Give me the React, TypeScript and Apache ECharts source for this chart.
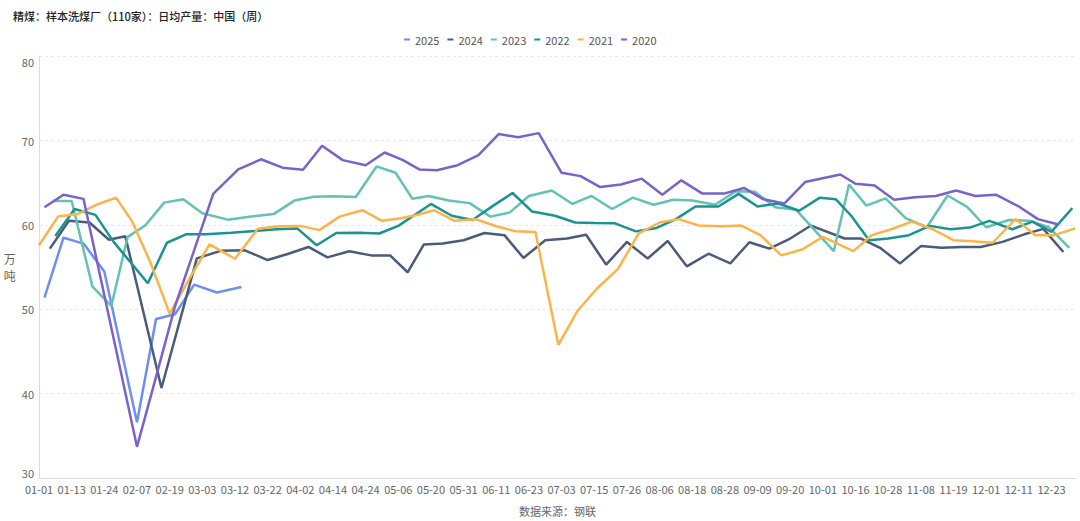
import React, { useEffect, useRef } from "react";
import * as echarts from "echarts";

const TITLE = "精煤：样本洗煤厂（110家）：日均产量：中国（周）";
const Y_NAME = "万\n吨";
const SOURCE = "数据来源：钢联";

const TICK_LABELS = [
  "01-01", "01-13", "01-24", "02-07", "02-19", "03-03", "03-12", "03-22",
  "04-02", "04-14", "04-24", "05-06", "05-20", "05-31", "06-11", "06-23",
  "07-03", "07-15", "07-26", "08-06", "08-18", "08-28", "09-09", "09-20",
  "10-01", "10-16", "10-28", "11-08", "11-19", "12-01", "12-11", "12-23",
];

const SERIES_NAMES = ["2025", "2024", "2023", "2022", "2021", "2020"];
const COLORS = ["#6f8ff0", "#4b5b7c", "#62c2b4", "#1b9392", "#fbb449", "#7b62cb"];

// first weekly (Friday) release day in January, per year
const FIRST_DAY: Record<string, number> = {
  "2025": 3, "2024": 5, "2023": 6, "2022": 7, "2021": 1, "2020": 3,
};

const V2025 = [51.4, 58.5, 57.8, 54.5, null, 36.6, 48.85, 49.43, 52.93, 52.0, 52.65];

const V2024 = [
  57.2, 60.5, 60.3, 58.26, 58.66, null, 40.67, null, 56.04, 56.94,
  57.0, 55.85, 56.6, 57.4, 56.16, 56.9, 56.4, 56.4, 54.4, 57.7,
  57.8, 58.2, 59.05, 58.8, 56.1, 58.2, 58.4, 58.84, 55.3, 58.0,
  56.04, 58.1, 55.1, 56.6, 55.45, 57.96, 57.2, 58.4, 59.94, null,
  58.4, 58.4, 57.3, 55.45, 57.5, 57.3, 57.4, 57.4, 58.0, 58.9,
  59.55, 56.8,
];

const V2023 = [
  62.85, 62.85, 52.7, 50.4, 58.6, 59.94, 62.66, 63.05, 61.4, 60.64,
  61.0, 61.3, 62.9, 63.36, 63.4, 63.33, 66.95, 66.2, 63.13, 63.45,
  62.9, 62.6, 61.0, 61.5, 63.45, 64.1, 62.5, 63.45, 61.9, 63.25,
  62.4, 63.0, 62.9, 62.4, 64.0, 63.95, 62.1, 61.8, null, 56.9,
  64.8, 62.3, 63.17, 60.8, 59.74, 63.5, 62.16, 59.74, 60.6, 60.5,
  59.74, 57.3,
];

const V2022 = [
  58.7, 61.9, 61.2, 58.0, null, 53.1, 57.9, 58.9, 58.9, 59.1,
  59.3, 59.5, 59.6, 57.6, 59.05, 59.1, 59.0, 59.9, 61.2, 62.5,
  61.1, 60.6, 62.3, 63.8, 61.6, 61.1, 60.3, 60.25, 60.2, 59.25,
  59.66, 60.7, 62.2, 62.2, 63.7, 62.2, 62.55, 61.7, 63.25, 63.05,
  61.1, 58.2, 58.4, 58.8, 59.9, 59.5, 59.7, 60.5, 59.5, 60.4,
  59.2, 62.0,
];

const V2021 = [
  57.6, 61.0, 61.3, 62.5, 63.25, 60.4, 55.5, 49.5, 53.5, 57.7,
  56.0, 59.55, 59.86, 59.9, 59.4, 61.0, 61.76, 60.5, 60.8, 61.2,
  61.76, 60.5, 60.7, 59.86, 59.27, 59.16, 45.8, 49.9, 52.5, 54.8,
  59.0, 60.3, 60.7, 59.94, 59.86, 59.94, 58.8, 56.4, 57.1, 58.6,
  null, 56.9, 58.8, 59.5, 60.4, 59.5, 58.2, 58.07, 57.9, 60.7,
  58.8, 58.8, 59.6,
];

const V2020 = [
  62.1, 63.6, 63.1, null, null, 33.7, 42.0, 50.4, 57.0, 63.7,
  66.6, 67.8, 66.8, 66.55, 69.4, 67.7, 67.1, 68.6, 67.7, 66.6,
  66.5, 67.1, 68.3, 70.8, 70.4, 70.9, 66.2, 65.8, 64.5, 64.8,
  65.5, 63.6, 65.3, 63.75, 63.75, 64.4, 63.05, 62.55, 65.1, null,
  66.0, 64.9, 64.7, 63.0, 63.3, 63.45, 64.1, 63.45, 63.6, 62.2,
  60.7, 60.1,
];

const VALUES: Record<string, (number | null)[]> = {
  "2025": V2025, "2024": V2024, "2023": V2023, "2022": V2022, "2021": V2021, "2020": V2020,
};

const CUM = [0, 31, 59, 90, 120, 151, 181, 212, 243, 273, 304, 334];
const dayOfYear = (m: number, d: number) => CUM[m - 1] + d - 1;
const LABEL_DAYS = TICK_LABELS.map((s) => dayOfYear(+s.slice(0, 2), +s.slice(3)));
const TAIL_GAP = 11;
const X_MAX = 31.75;

// position of a calendar day on the axis (one unit per tick label)
function axisPos(day: number): number {
  const n = LABEL_DAYS.length;
  if (day >= LABEL_DAYS[n - 1]) return n - 1 + (day - LABEL_DAYS[n - 1]) / TAIL_GAP;
  for (let i = 0; i < n - 1; i++) {
    if (day >= LABEL_DAYS[i] && day < LABEL_DAYS[i + 1]) {
      return i + (day - LABEL_DAYS[i]) / (LABEL_DAYS[i + 1] - LABEL_DAYS[i]);
    }
  }
  return 0;
}

function seriesData(year: string) {
  const y = +year;
  return VALUES[year].map((v, i) => {
    const dt = new Date(Date.UTC(y, 0, FIRST_DAY[year] + 7 * i));
    const x = axisPos(dayOfYear(dt.getUTCMonth() + 1, dt.getUTCDate()));
    return [x, v === null ? "-" : v];
  });
}

export default function App() {
  const ref = useRef<HTMLDivElement>(null);
  useEffect(() => {
    if (!ref.current) return;
    const chart = echarts.init(ref.current, undefined, { renderer: "svg" });
    const font = "'Noto Sans CJK SC', 'Noto Sans', sans-serif";
    chart.setOption({
      animation: false,
      backgroundColor: "#ffffff",
      textStyle: { fontFamily: font },
      color: COLORS,
      title: {
        text: TITLE,
        left: 8,
        top: 5,
        textStyle: { fontSize: 11, fontWeight: 500, color: "#222", fontFamily: font },
      },
      legend: {
        data: SERIES_NAMES,
        top: 29,
        left: 399,
        icon: "rect",
        itemWidth: 6,
        itemHeight: 2,
        itemGap: 8,
        textStyle: { fontSize: 11, color: "#555", fontFamily: font },
      },
      grid: { left: 39, right: 4, top: 56.4, bottom: 36.4, containLabel: false },
      xAxis: {
        type: "value",
        min: 0,
        max: X_MAX,
        interval: 1,
        name: SOURCE,
        nameLocation: "middle",
        nameGap: 27,
        nameTextStyle: { fontSize: 11, color: "#666", fontFamily: font },
        axisLine: { show: true, lineStyle: { color: "#dcdcdc" } },
        axisTick: { show: false },
        splitLine: { show: false },
        axisLabel: {
          fontSize: 11,
          color: "#666",
          margin: 5,
          showMaxLabel: false,
          formatter: (v: number) => (Number.isInteger(v) && TICK_LABELS[v] ? TICK_LABELS[v] : ""),
        },
      },
      yAxis: {
        type: "value",
        min: 30,
        max: 80,
        interval: 10,
        name: Y_NAME,
        nameLocation: "middle",
        nameRotate: 0,
        nameGap: 16,
        nameTextStyle: { fontSize: 12, color: "#666", lineHeight: 17, fontFamily: font },
        axisLine: { show: true, lineStyle: { color: "#dcdcdc" } },
        axisTick: { show: false },
        axisLabel: {
          fontSize: 11,
          color: "#666",
          margin: 5,
          verticalAlignMinLabel: "bottom",
          verticalAlignMaxLabel: "top",
        },
        splitLine: { show: true, lineStyle: { color: "#e8e8e8", type: [3, 3] } },
      },
      series: SERIES_NAMES.map((name, i) => ({
        name,
        type: "line",
        data: seriesData(name),
        connectNulls: true,
        showSymbol: false,
        symbol: "none",
        lineStyle: { width: 2.5, color: COLORS[i] },
        itemStyle: { color: COLORS[i] },
      })),
    });
    return () => chart.dispose();
  }, []);
  return (
    <div
      ref={ref}
      style={{ position: "fixed", left: 0, top: 0, width: 1080, height: 521 }}
    />
  );
}
